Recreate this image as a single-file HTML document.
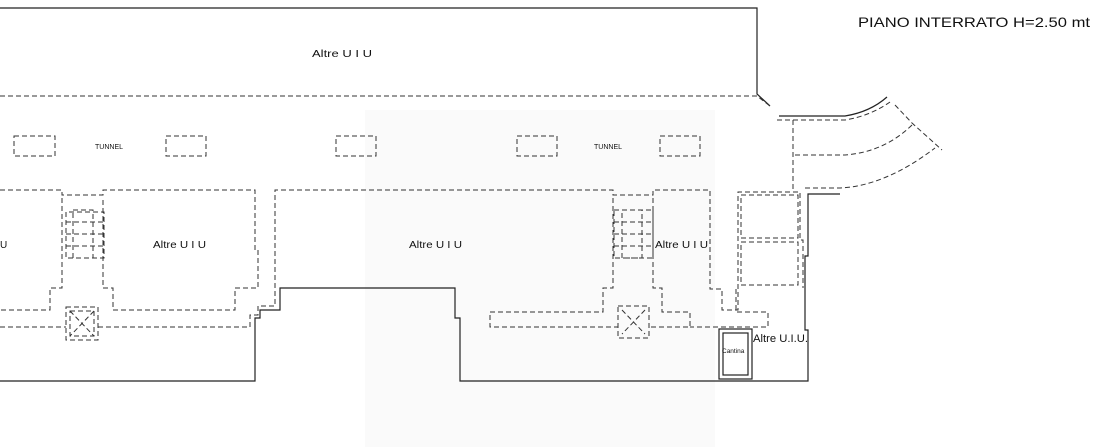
<!DOCTYPE html>
<html><head><style>
html,body{margin:0;padding:0;background:#fff;width:1111px;height:447px;overflow:hidden}
svg{display:block}
text{font-family:"Liberation Sans",sans-serif;fill:#111}
</style></head><body>
<svg width="1111" height="447" viewBox="0 0 1111 447" xmlns="http://www.w3.org/2000/svg">
<rect x="365" y="110" width="350" height="337" fill="#fafafa"/>
<g fill="none" stroke="#222" stroke-width="1.2">
<polyline points="0,8 757,8 757,94 770,106"/>
<polyline points="0,381 255,381 255,318 260,318 260,310 280,310 280,288 455,288 455,318 460,318 460,381 808,381 808,330 805,330 805,256 808,256 808,194 840,194 Q880,192 940,150"/>
<path d="M779,116 L845,116 Q870,112 887,97"/>
</g>
<g fill="none" stroke="#333" stroke-width="1" stroke-dasharray="5,3">
<polyline points="0,96 757,96 770,106"/>
<path d="M777,120 L845,120 Q870,116 890,102"/>
<polyline points="793,120 793,190"/>
<path d="M795,155 L845,155 Q885,152 913,124"/>
<path d="M805,188 L840,188 Q885,186 935,148"/>
<polyline points="895,105 912,123 942,150"/>
<rect x="14" y="136" width="41" height="20"/>
<rect x="166" y="136" width="40" height="20"/>
<rect x="336" y="136" width="40" height="20"/>
<rect x="517" y="136" width="40" height="20"/>
<rect x="660" y="136" width="40" height="20"/>
<polyline points="0,190 62,190 62,195 103,195 103,190 255,190 255,250 258,250 258,288 235,288 235,310 113,310 113,288 103,288 103,198"/>
<polyline points="62,198 62,288 50,288 50,310 0,310"/>
<polyline points="0,327 66,327"/>
<polyline points="98,327 250,327 250,315 258,315 258,306 275,306 275,190 613,190 613,195 653,195 653,190 710,190 710,289 722,289 722,310 738,310 738,290 738,192 800,192 800,240 803,240 803,288"/>
<rect x="66" y="307" width="32" height="33"/>
<rect x="70" y="311" width="24" height="25"/>
<polyline points="66,212 66,258 104,258 104,212 66,212"/>
<rect x="73" y="210" width="20" height="48"/>
<line x1="66" y1="222" x2="104" y2="222"/><line x1="66" y1="234" x2="104" y2="234"/><line x1="66" y1="246" x2="104" y2="246"/>
<polyline points="613,198 613,288 603,288 603,312 490,312 490,327 618,327"/>
<polyline points="653,198 653,288 662,288 662,312 690,312 690,327 650,327"/>
<rect x="614" y="210" width="39" height="48"/>
<rect x="622" y="210" width="20" height="48"/>
<line x1="614" y1="222" x2="653" y2="222"/><line x1="614" y1="234" x2="653" y2="234"/><line x1="614" y1="246" x2="653" y2="246"/>
<rect x="618" y="306" width="31" height="32"/>
<line x1="622" y1="310" x2="645" y2="334"/><line x1="645" y1="310" x2="622" y2="334"/>
<line x1="70" y1="311" x2="94" y2="336"/><line x1="94" y1="311" x2="70" y2="336"/>
<polyline points="736,289 736,312 768,312 768,327 690,327"/>
<rect x="741" y="195" width="57" height="43"/>
<rect x="741" y="242" width="57" height="43"/>
</g>
<g fill="none" stroke="#222" stroke-width="1.2">
<rect x="719" y="329" width="33" height="50"/>
<rect x="723" y="333" width="25" height="42"/>
</g>
<g font-size="10">
<text x="312" y="57" textLength="60" lengthAdjust="spacingAndGlyphs">Altre U I U</text>
<text x="0" y="248">U</text>
<text x="153" y="248" textLength="53" lengthAdjust="spacingAndGlyphs">Altre U I U</text>
<text x="409" y="248" textLength="53" lengthAdjust="spacingAndGlyphs">Altre U I U</text>
<text x="655" y="248" textLength="53" lengthAdjust="spacingAndGlyphs">Altre U I U</text>
<text x="95" y="149" font-size="7">TUNNEL</text>
<text x="594" y="149" font-size="7">TUNNEL</text>
<text x="753" y="342" font-size="11" textLength="55" lengthAdjust="spacingAndGlyphs">Altre U.I.U.</text>
<text x="722" y="353" font-size="6.5">Cantina</text>
</g>
<text x="858" y="27" font-size="14" textLength="232" lengthAdjust="spacingAndGlyphs">PIANO INTERRATO H=2.50 mt</text>
</svg>
</body></html>
